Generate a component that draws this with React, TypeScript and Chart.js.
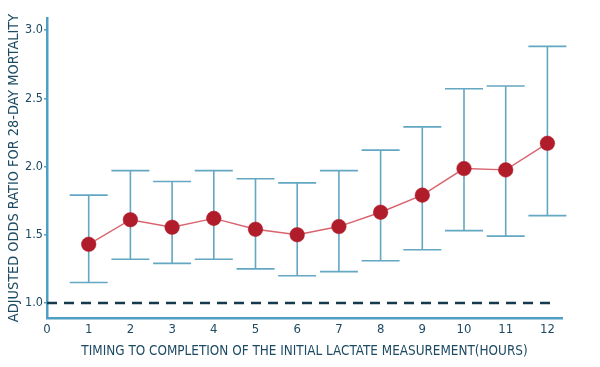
import React, { useEffect, useRef } from "react";
import { Chart, registerables } from "chart.js";

Chart.register(...registerables);

const hours = [1, 2, 3, 4, 5, 6, 7, 8, 9, 10, 11, 12];
const oddsRatio = [1.43, 1.61, 1.555, 1.62, 1.54, 1.5, 1.56, 1.665, 1.79, 1.985, 1.975, 2.17];
const lowerCI = [1.15, 1.32, 1.29, 1.32, 1.25, 1.2, 1.23, 1.31, 1.39, 1.53, 1.49, 1.64];
const upperCI = [1.79, 1.97, 1.89, 1.97, 1.91, 1.88, 1.97, 2.12, 2.29, 2.57, 2.59, 2.88];
const xTickValues = [0, 1, 2, 3, 4, 5, 6, 7, 8, 9, 10, 11, 12];
const yTickValues = [1.0, 1.5, 2.0, 2.5, 3.0];
const referenceLine = [
  { x: 0, y: 1.0 },
  { x: 12.2, y: 1.0 },
];

const FONT = "'Liberation Sans Narrow', 'DejaVu Sans Condensed', 'Roboto', sans-serif";
const TEXT = "#1d4a63";
const AXIS = "#4f9fc3";
const BAR = "#63a7c2";

const errorBarPlugin = {
  id: "errorBars",
  beforeDatasetsDraw(chart: any) {
    const { ctx, scales } = chart;
    const xs = scales.x;
    const ys = scales.y;
    ctx.save();
    ctx.strokeStyle = BAR;
    ctx.lineWidth = 1.6;
    const cap = 19;
    hours.forEach((h, i) => {
      const px = xs.getPixelForValue(h);
      const top = ys.getPixelForValue(upperCI[i]);
      const bot = ys.getPixelForValue(lowerCI[i]);
      ctx.beginPath();
      ctx.moveTo(px, top);
      ctx.lineTo(px, bot);
      ctx.moveTo(px - cap, top);
      ctx.lineTo(px + cap, top);
      ctx.moveTo(px - cap, bot);
      ctx.lineTo(px + cap, bot);
      ctx.stroke();
    });
    ctx.restore();
  },
};

export default function App() {
  const ref = useRef<HTMLCanvasElement>(null);
  useEffect(() => {
    document.body.style.margin = "0";
    const chart = new Chart(ref.current as HTMLCanvasElement, {
      type: "line",
      data: {
        datasets: [
          {
            label: "Reference",
            data: referenceLine,
            borderColor: "#163a4d",
            borderWidth: 2.6,
            borderDash: [10, 7],
            pointRadius: 0,
            order: 2,
          },
          {
            label: "Adjusted OR",
            data: hours.map((h, i) => ({ x: h, y: oddsRatio[i] })),
            borderColor: "#d8636d",
            borderWidth: 1.4,
            pointRadius: 7.3,
            pointBackgroundColor: "#b01c2a",
            pointBorderColor: "#b01c2a",
            pointBorderWidth: 0.5,
            order: 1,
          },
        ],
      },
      options: {
        animation: false,
        responsive: false,
        maintainAspectRatio: false,
        layout: { padding: { top: 18, right: 38, left: 0, bottom: 0 } },
        plugins: { legend: { display: false }, tooltip: { enabled: false } },
        scales: {
          x: {
            type: "linear",
            min: 0,
            max: 12.35,
            afterBuildTicks: (s: any) => {
              s.ticks = xTickValues.map((v) => ({ value: v }));
            },
            afterFit: (s: any) => {
              s.height = 49;
            },
            grid: { display: false, drawTicks: false },
            border: { display: true, color: AXIS, width: 2.5 },
            ticks: {
              color: TEXT,
              padding: 4,
              font: { family: FONT, size: 13 },
              maxRotation: 0,
              autoSkip: false,
            },
            title: {
              display: true,
              text: "TIMING TO COMPLETION OF THE INITIAL LACTATE MEASUREMENT(HOURS)",
              color: TEXT,
              font: { family: FONT, size: 13.4 },
              padding: { top: 0, bottom: 7 },
            },
          },
          y: {
            type: "linear",
            min: 0.89,
            max: 3.088,
            afterBuildTicks: (s: any) => {
              s.ticks = yTickValues.map((v) => ({ value: v }));
            },
            afterFit: (s: any) => {
              s.width = 47;
            },
            grid: { display: true, drawOnChartArea: false, tickLength: 3, color: AXIS, lineWidth: 1.5 },
            border: { display: true, color: AXIS, width: 2.5 },
            ticks: {
              color: TEXT,
              padding: 1,
              font: { family: FONT, size: 12.5 },
              callback: (v: any) => Number(v).toFixed(1),
            },
            title: {
              display: true,
              text: "ADJUSTED ODDS RATIO FOR 28-DAY MORTALITY",
              color: TEXT,
              font: { family: FONT, size: 14.4 },
              padding: { top: 6, bottom: 0 },
            },
          },
        },
      },
      plugins: [errorBarPlugin],
    });
    return () => chart.destroy();
  }, []);
  return (
    <div style={{ position: "fixed", left: 0, top: 0, width: 600, height: 367, background: "#fff" }}>
      <canvas ref={ref} width={600} height={367} style={{ width: 600, height: 367, display: "block" }} />
    </div>
  );
}
